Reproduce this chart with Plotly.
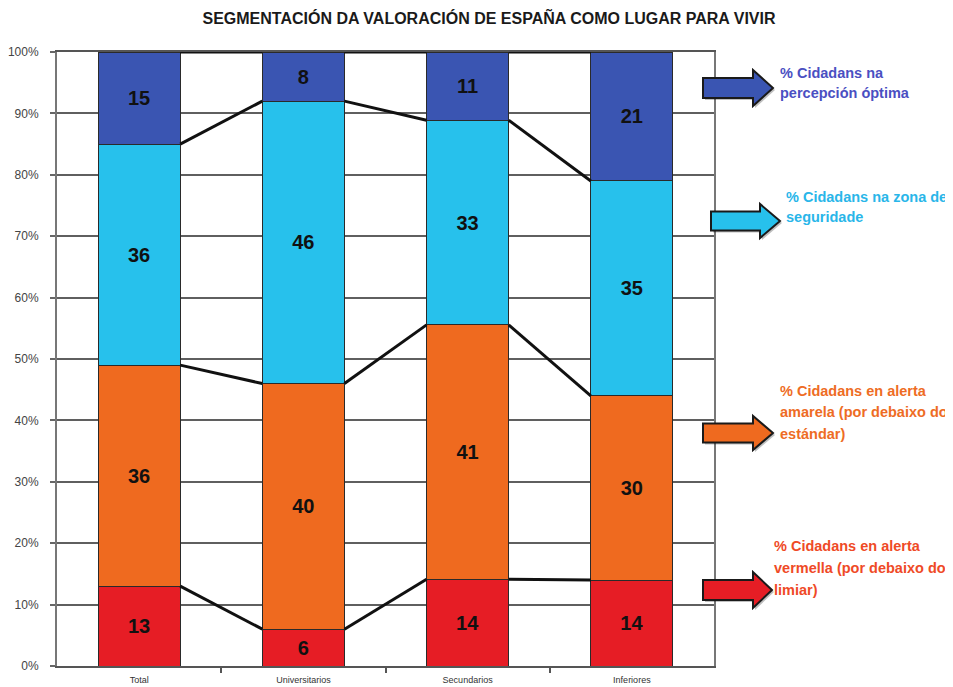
import plotly.graph_objects as go

# ---------------- data ----------------
categories = ["Total", "Universitarios", "Secundarios", "Inferiores"]
red_vals = [13, 6, 14, 14]       # alerta vermella
orange_vals = [36, 40, 41, 30]   # alerta amarela
cyan_vals = [36, 46, 33, 35]     # zona de seguridade
blue_vals = [15, 8, 11, 21]      # percepción óptima
y_ticks = [0, 10, 20, 30, 40, 50, 60, 70, 80, 90, 100]
y_tick_labels = [f"{v}%" for v in y_ticks]

series = [
    ("% Cidadans en alerta vermella", red_vals, "#e61d25"),
    ("% Cidadans en alerta amarela", orange_vals, "#ef6a1f"),
    ("% Cidadans na zona de seguridade", cyan_vals, "#27c1ec"),
    ("% Cidadans na percepción óptima", blue_vals, "#3a55b2"),
]

xpos = list(range(len(categories)))
BAR_W = 0.5

fig = go.Figure()

for name, vals, col in series:
    fig.add_trace(go.Bar(
        x=xpos, y=vals, name=name, width=BAR_W,
        marker=dict(color=col, line=dict(color="#2a2a2a", width=1)),
        text=[f"<b>{v}</b>" for v in vals], textposition="inside",
        insidetextanchor="middle", textangle=0, constraintext="none",
        textfont=dict(family="Liberation Sans, Arial, sans-serif", size=20, color="#111111"),
        showlegend=False, hoverinfo="skip",
    ))

# series connector lines (Excel style) from normalised cumulative tops
totals = [sum(s[1][i] for s in series) for i in range(len(categories))]
cum = [0.0] * len(categories)
for name, vals, col in series:
    cum = [cum[i] + vals[i] * 100.0 / totals[i] for i in range(len(categories))]
    lx, ly = [], []
    for i in range(len(categories) - 1):
        lx += [xpos[i] + BAR_W / 2, xpos[i + 1] - BAR_W / 2, None]
        ly += [cum[i], cum[i + 1], None]
    fig.add_trace(go.Scatter(x=lx, y=ly, mode="lines",
                             line=dict(color="#111111", width=3),
                             showlegend=False, hoverinfo="skip", cliponaxis=False))

# ---------------- layout helpers ----------------
# the page body adds an 8px offset; positions below are given in screen pixels
W, H = 953, 687
OFF = 8
SCR_L, SCR_R, SCR_T, SCR_B = 57, 714, 52, 666   # plot area on screen
ML, MT = SCR_L - OFF, SCR_T - OFF
MR, MB = W - (SCR_R - OFF), H - (SCR_B - OFF)
PW, PH = SCR_R - SCR_L, SCR_B - SCR_T

def px(x):
    return (x - SCR_L) / PW

def py(y):
    return (SCR_B - y) / PH

def arrow_path(x0, xb, xt, yc, h, hh):
    pts = [(x0, yc - h / 2), (xb, yc - h / 2), (xb, yc - hh / 2), (xt, yc),
           (xb, yc + hh / 2), (xb, yc + h / 2), (x0, yc + h / 2)]
    return "M " + " L ".join(f"{px(a):.5f},{py(b):.5f}" for a, b in pts) + " Z"

arrows = [
    (703, 753, 773, 88, 20, 36, "#3a55b2"),
    (711, 760, 780, 221, 19, 34, "#27c1ec"),
    (703, 753, 773, 433, 19, 34, "#ef6a1f"),
    (703, 753, 772, 590, 20, 36, "#e61d25"),
]
shapes = []
for x0, xb, xt, yc, h, hh, col in arrows:
    shapes.append(dict(type="path", xref="paper", yref="paper",
                       path=arrow_path(x0 + 2, xb + 2, xt + 2, yc + 2, h, hh),
                       fillcolor="rgba(0,0,0,0.25)", line=dict(width=0), layer="above"))
    shapes.append(dict(type="path", xref="paper", yref="paper",
                       path=arrow_path(x0, xb, xt, yc, h, hh),
                       fillcolor=col, line=dict(color="#1a1a1a", width=2), layer="above"))

side_labels = [
    (778, [73, 93], ["% Cidadans na", "percepción óptima"], "#4a4fc2"),
    (784, [197, 217], ["% Cidadans na zona de", "seguridade"], "#29b6e9"),
    (778, [391, 412, 434], ["% Cidadans en alerta", "amarela (por debaixo do", "estándar)"], "#ee6c24"),
    (772, [546, 568, 590], ["% Cidadans en alerta", "vermella (por debaixo do", "limiar)"], "#ef4a26"),
]
annotations = []
for lx, lys, lines, col in side_labels:
    for yy, t in zip(lys, lines):
        annotations.append(dict(xref="paper", yref="paper", x=px(lx), y=py(yy),
                                xanchor="left", yanchor="middle", showarrow=False,
                                text=f"<b>{t}</b>",
                                font=dict(family="Liberation Sans, Arial, sans-serif",
                                          size=14.5, color=col)))

fig.update_layout(
    width=W, height=H,
    margin=dict(l=ML, r=MR, t=MT, b=MB, pad=0, autoexpand=False),
    paper_bgcolor="white", plot_bgcolor="white",
    barmode="stack", barnorm="percent", bargap=0.5,
    uniformtext=dict(minsize=20, mode="show"),
    title=dict(text="<b>SEGMENTACIÓN DA VALORACIÓN DE ESPAÑA COMO LUGAR PARA VIVIR</b>",
               xref="container", yref="container",
               x=(489 - OFF) / W, xanchor="center", y=1 - (18 - OFF) / H, yanchor="middle",
               font=dict(family="Liberation Sans, Arial, sans-serif", size=16, color="#1a1a1a")),
    xaxis=dict(range=[-0.5, len(categories) - 0.5], tickvals=xpos, ticktext=categories,
               ticks="", showgrid=False, zeroline=False, automargin=False,
               showline=True, linecolor="#555555", linewidth=2, mirror=True,
               tickfont=dict(family="Liberation Sans, Arial, sans-serif", size=9, color="#333333"),
               ticklabelstandoff=4,
               minor=dict(tickvals=[i + 0.5 for i in xpos[:-1]], ticks="outside",
                          ticklen=5, tickwidth=2, tickcolor="#555555", showgrid=False)),
    yaxis=dict(range=[0, 100], tickvals=y_ticks, ticktext=y_tick_labels,
               ticks="outside", ticklen=5, tickwidth=2, tickcolor="#666666",
               showgrid=True, gridcolor="#5f5f5f", gridwidth=2, zeroline=False,
               showline=True, linecolor="#777777", linewidth=2, mirror=True,
               ticklabelstandoff=9, automargin=False,
               tickfont=dict(family="Liberation Sans, Arial, sans-serif", size=12, color="#444444")),
    shapes=shapes, annotations=annotations,
)

fig.write_html("out.html")
